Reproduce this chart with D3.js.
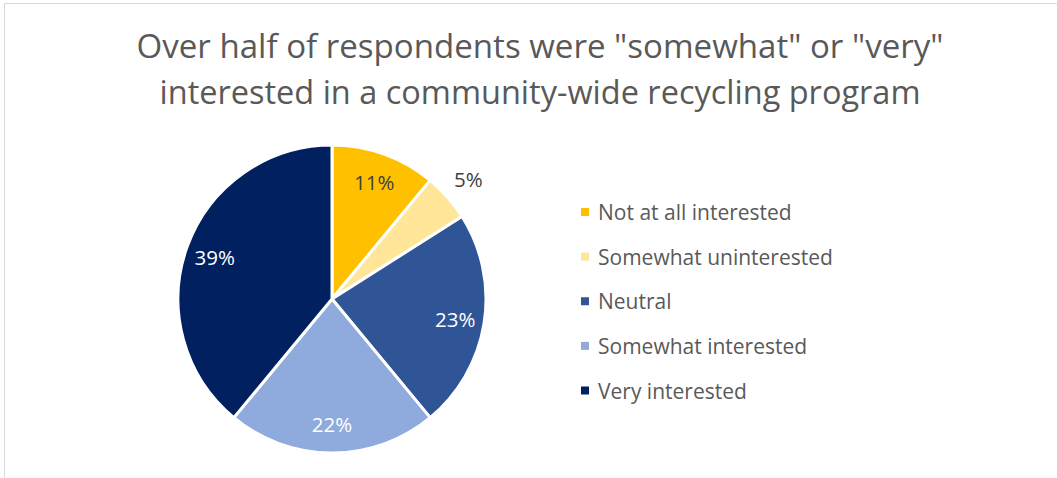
<!DOCTYPE html>
<html>
<head>
<meta charset="utf-8">
<script src="https://cdn.jsdelivr.net/npm/d3@7"></script>
<style>
  html, body { margin: 0; padding: 0; background: #fff; }
  svg { display: block; }
  text { font-family: "Open Sans", "Liberation Sans", sans-serif; }
</style>
</head>
<body>
<svg id="chart" width="1057" height="478"></svg>
<script>
// Survey responses: interest in a community-wide recycling program
const categories = ["Not at all interested", "Somewhat uninterested", "Neutral", "Somewhat interested", "Very interested"];
const shares = [11, 5, 23, 22, 39];
const colors = ["#FFC000", "#FFE699", "#2F5597", "#8FAADC", "#002060"];
const labelColors = ["#404040", "#404040", "#ffffff", "#ffffff", "#ffffff"];
const titleLines = ["Over half of respondents were \"somewhat\" or \"very\"", "interested in a community-wide recycling program"];

const svg = d3.select("#chart");
const W = 1057, H = 478;

// chart frame
svg.append("rect")
  .attr("x", 4.5).attr("y", 3.5)
  .attr("width", W + 10).attr("height", H + 10)
  .attr("fill", "#fff")
  .attr("stroke", "#d9d9d9").attr("stroke-width", 1);

// title
const title = svg.append("g").attr("fill", "#595959");
const titleWidths = [807, 761];
titleLines.forEach((line, i) => {
  title.append("text")
    .attr("x", 540).attr("y", 58 + i * 45.5)
    .attr("text-anchor", "middle")
    .attr("font-size", 32)
    .attr("textLength", titleWidths[i])
    .attr("lengthAdjust", "spacingAndGlyphs")
    .text(line);
});

// pie
const cx = 332, cy = 299, R = 154;
const pie = d3.pie().sort(null).value(d => d)(shares);
const arc = d3.arc().innerRadius(0).outerRadius(R);
const labelArc = d3.arc().innerRadius(R * 0.81).outerRadius(R * 0.81);
const outerLabelArc = d3.arc().innerRadius(R * 1.18).outerRadius(R * 1.18);

const g = svg.append("g").attr("transform", `translate(${cx},${cy})`);
g.selectAll("path.slice")
  .data(pie)
  .join("path")
  .attr("class", "slice")
  .attr("d", arc)
  .attr("fill", (d, i) => colors[i])
  .attr("stroke", "#fff")
  .attr("stroke-width", 3)
  .attr("stroke-linejoin", "round");

// data labels; thin slices get their label outside the pie
g.selectAll("text.value")
  .data(pie)
  .join("text")
  .attr("class", "value")
  .attr("transform", d => {
    const small = d.data < 8;
    const [x, y] = (small ? outerLabelArc : labelArc).centroid(d);
    return `translate(${x},${y})`;
  })
  .attr("text-anchor", "middle")
  .attr("dominant-baseline", "central")
  .attr("font-size", 20.5)
  .attr("fill", (d, i) => d.data < 8 ? "#404040" : labelColors[i])
  .text(d => d.data + "%");

// legend
const legendY = d3.scalePoint().domain(categories).range([212, 390.5]);
const legend = svg.append("g");
const rows = legend.selectAll("g.row")
  .data(categories)
  .join("g")
  .attr("class", "row")
  .attr("transform", d => `translate(581,${legendY(d)})`);
rows.append("rect")
  .attr("x", 0).attr("y", -4)
  .attr("width", 8).attr("height", 8)
  .attr("fill", (d, i) => colors[i]);
rows.append("text")
  .attr("x", 17).attr("y", 0)
  .attr("dominant-baseline", "central")
  .attr("font-size", 21)
  .attr("fill", "#595959")
  .text(d => d);
</script>
</body>
</html>
